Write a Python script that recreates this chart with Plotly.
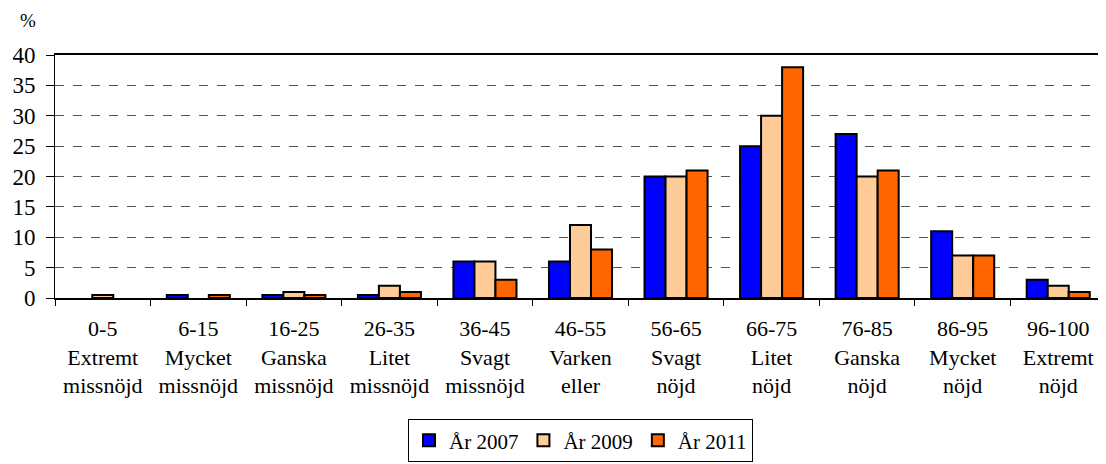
import plotly.graph_objects as go

# categories (range + label, three lines)
categories = [
    "0-5<br>Extremt<br>missnöjd",
    "6-15<br>Mycket<br>missnöjd",
    "16-25<br>Ganska<br>missnöjd",
    "26-35<br>Litet<br>missnöjd",
    "36-45<br>Svagt<br>missnöjd",
    "46-55<br>Varken<br>eller",
    "56-65<br>Svagt<br>nöjd",
    "66-75<br>Litet<br>nöjd",
    "76-85<br>Ganska<br>nöjd",
    "86-95<br>Mycket<br>nöjd",
    "96-100<br>Extremt<br>nöjd",
]

# None = no bar drawn
y2007 = [None, 0.5, 0.5, 0.5, 6, 6, 20, 25, 27, 11, 3]
y2009 = [0.5, None, 1, 2, 6, 12, 20, 30, 20, 7, 2]
y2011 = [None, 0.5, 0.5, 1, 3, 8, 21, 38, 21, 7, 1]

series_names = ["År 2007", "År 2009", "År 2011"]
colors = ["#0000FF", "#FFCC99", "#FF6600"]

fig = go.Figure()
for name, vals, col in zip(series_names, [y2007, y2009, y2011], colors):
    fig.add_trace(go.Bar(
        x=categories, y=vals, name=name,
        marker=dict(color=col, line=dict(color="black", width=2)),
    ))

font = "Liberation Serif"

# page body has an 8px margin, so the figure is 8px smaller
fig.update_layout(
    width=1098, height=456,
    margin=dict(l=47, r=0, t=47, b=166, autoexpand=False),
    paper_bgcolor="white", plot_bgcolor="white",
    barmode="group", bargap=0.34, bargroupgap=0,
    font=dict(family=font, size=22, color="black"),
    showlegend=True,
    legend=dict(
        orientation="h", x=0.5, xanchor="center",
        yref="container", y=0.004, yanchor="bottom",
        bordercolor="black", borderwidth=1, font=dict(family=font, size=21),
        itemwidth=30, tracegroupgap=0,
    ),
    xaxis=dict(
        showline=True, linecolor="black", linewidth=1.5, mirror=True,
        ticks="outside", tickson="boundaries", ticklen=6, tickcolor="black",
        showgrid=False, tickfont=dict(family=font, size=22), automargin=False,
        ticklabelstandoff=10,
    ),
    yaxis=dict(
        range=[0, 40], dtick=5, showline=True, linecolor="black", linewidth=1,
        ticks="outside", ticklen=8, tickcolor="black",
        showgrid=True, gridcolor="#555555", griddash="dash", gridwidth=1,
        zeroline=False, tickfont=dict(family=font, size=23), automargin=False,
        ticklabelstandoff=6,
    ),
    annotations=[dict(
        text="%", xref="paper", yref="paper", x=-0.035, y=1.09,
        xanchor="left", yanchor="bottom", showarrow=False,
        font=dict(family=font, size=19),
    )],
)

fig.write_html("out.html")
